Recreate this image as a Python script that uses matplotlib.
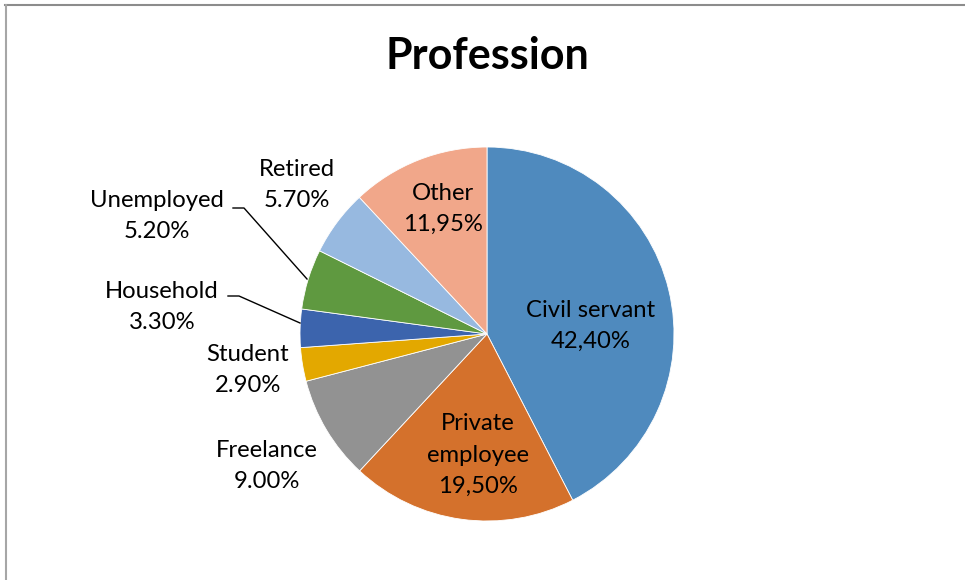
import matplotlib
matplotlib.use("Agg")
import matplotlib.pyplot as plt
from matplotlib.lines import Line2D

categories = ["Civil servant", "Private\nemployee", "Freelance", "Student",
              "Household", "Unemployed", "Retired", "Other"]
values = [42.40, 19.50, 9.00, 2.90, 3.30, 5.20, 5.70, 11.95]
value_labels = ["42,40%", "19,50%", "9.00%", "2.90%", "3.30%", "5.20%", "5.70%", "11,95%"]
colors = ["#4F8ABE", "#D4712C", "#929292", "#E3A800", "#3C64AD", "#5F9940", "#97B9E0", "#F1A78A"]

W, H = 965, 580
plt.rcParams['font.family'] = ['Lato', 'DejaVu Sans']
fig = plt.figure(figsize=(W / 100, H / 100), dpi=100)
ax = fig.add_axes([0, 0, 1, 1])

cx, cy, r = 487, H - 334, 187
ax.pie(values, colors=colors, startangle=90, counterclock=False,
       center=(cx, cy), radius=r, frame=True,
       wedgeprops=dict(linewidth=0.6, edgecolor='white'))
ax.set_xlim(0, W)
ax.set_ylim(0, H)
ax.axis('off')

# label layout (pixel positions of text centres, top-down coords)
label_pos = [(591, 326), (478, 455), (267, 466), (248, 370),
             (162, 307), (157, 216), (297, 185), (443, 209)]
fs = 17.2
for name, vl, (px, py) in zip(categories, value_labels, label_pos):
    ax.text(px, H - py, name + "\n" + vl, ha='center', va='center',
            fontsize=fs, color='black', linespacing=1.6)

# leader lines
leaders = [[(233, 208), (244, 208), (307, 279)],
           [(228, 296), (239, 296), (300, 323)]]
for pts in leaders:
    xs = [p[0] for p in pts]
    ys = [H - p[1] for p in pts]
    ax.plot(xs, ys, color='black', lw=1.0)

fig.text(487 / W, 1 - 56 / H, "Profession", ha='center', va='center',
         fontsize=31, fontweight='bold')

# chart border (top & left visible)
fig.add_artist(Line2D([5 / W, 1], [1 - 4.5 / H, 1 - 4.5 / H], transform=fig.transFigure,
                      color='#8c8c8c', lw=1.5))
fig.add_artist(Line2D([5.5 / W, 5.5 / W], [0, 1 - 4.5 / H], transform=fig.transFigure,
                      color='#a6a6a6', lw=1.5))

fig.savefig("out.png", dpi=100)
